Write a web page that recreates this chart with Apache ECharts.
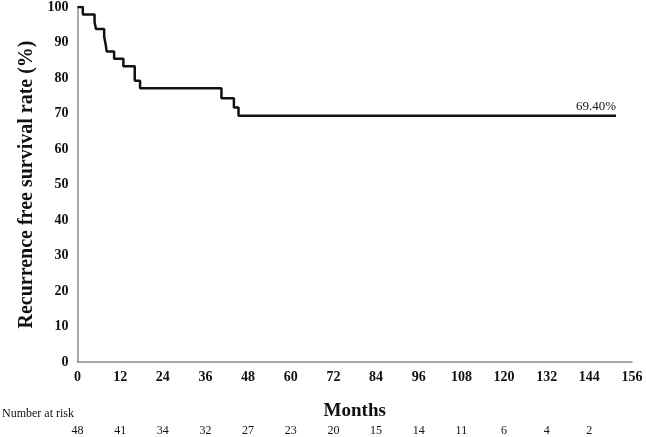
<!DOCTYPE html>
<html>
<head>
<meta charset="utf-8">
<script src="https://cdn.jsdelivr.net/npm/echarts@6/dist/echarts.min.js"></script>
<style>
  html, body { margin: 0; padding: 0; background: #fff; }
  #chart { width: 646px; height: 437px; }
</style>
</head>
<body>
<div id="chart"></div>
<script>
// Kaplan-Meier step points (months, survival %)
const months = [0, 1.5, 4.8, 5.2, 7.5, 7.9, 8.2, 10.3, 12.9, 16.1, 17.6, 40.5, 44, 45.3, 151.5];
const survival = [100, 97.9, 95.8, 93.8, 91.7, 89.6, 87.5, 85.4, 83.3, 79.2, 77.1, 74.3, 71.7, 69.4, 69.4];
const endLabel = "69.40%";
// number at risk, one per 12-month tick
const atRisk = [48, 41, 34, 32, 27, 23, 20, 15, 14, 11, 6, 4, 2];

const serif = "Liberation Serif";
const last = months.length - 1;

const seriesData = months.map((m, i) => {
  if (i === last) {
    return {
      value: [m, survival[i]],
      label: {
        show: true,
        formatter: endLabel,
        position: "top",
        align: "right",
        distance: 3,
        color: "#111",
        fontFamily: serif,
        fontSize: 13,
      },
    };
  }
  return [m, survival[i]];
});

const chart = echarts.init(document.getElementById("chart"));

chart.setOption({
  animation: false,
  grid: { left: 77.5, right: 14, top: 5, bottom: 75 },
  xAxis: [
    {
      type: "value",
      min: 0,
      max: 156,
      interval: 12,
      name: "Months",
      nameLocation: "middle",
      nameGap: 40,
      nameTextStyle: { fontFamily: serif, fontWeight: "bold", fontSize: 19, color: "#111" },
      axisLine: { show: true, onZero: false, lineStyle: { color: "#8c8c8c", width: 1.5 } },
      axisTick: { show: false },
      splitLine: { show: false },
      axisLabel: { fontFamily: serif, fontWeight: "bold", fontSize: 14, color: "#111", margin: 8 },
    },
    {
      type: "value",
      position: "bottom",
      offset: 60,
      min: 0,
      max: 156,
      interval: 12,
      axisLine: { show: false },
      axisTick: { show: false },
      splitLine: { show: false },
      axisLabel: {
        fontFamily: serif,
        fontSize: 12,
        color: "#111",
        margin: 3,
        formatter: (v) => {
          const n = atRisk[Math.round(v / 12)];
          return n === undefined ? "" : String(n);
        },
      },
    },
  ],
  yAxis: {
    type: "value",
    min: 0,
    max: 100,
    interval: 10,
    name: "Recurrence free survival rate (%)",
    nameLocation: "middle",
    nameGap: 41,
    nameTextStyle: { fontFamily: serif, fontWeight: "bold", fontSize: 20, color: "#111" },
    axisLine: { show: true, lineStyle: { color: "#8c8c8c", width: 1.5 } },
    axisTick: { show: false },
    splitLine: { show: false },
    axisLabel: { fontFamily: serif, fontWeight: "bold", fontSize: 14, color: "#111", margin: 9 },
  },
  graphic: [
    {
      type: "text",
      left: 2,
      top: 408,
      style: { text: "Number at risk", font: "12px " + serif, fill: "#111" },
    },
  ],
  series: [
    {
      type: "line",
      step: "end",
      data: seriesData,
      showSymbol: true,
      symbol: "circle",
      symbolSize: 0,
      lineStyle: { color: "#111", width: 2.5 },
      itemStyle: { color: "#111" },
    },
  ],
});
</script>
</body>
</html>
